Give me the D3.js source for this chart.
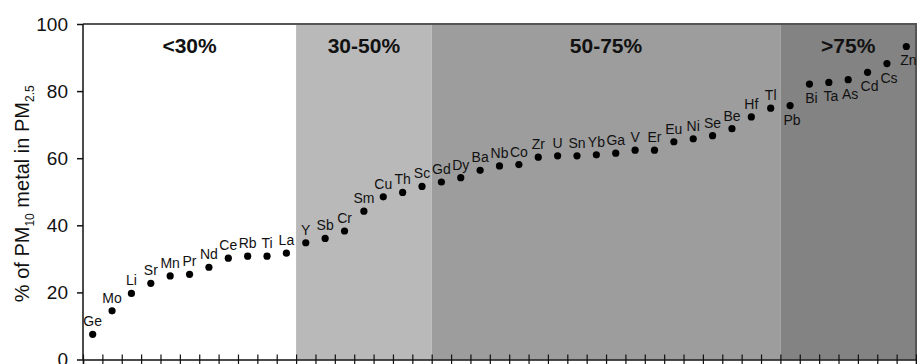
<!DOCTYPE html>
<html>
<head>
<meta charset="utf-8">
<script src="https://cdn.jsdelivr.net/npm/d3@7"></script>
<style>
    body { margin: 0; background: #fff; }
    svg { display: block; font-family: "Liberation Sans", Arial, sans-serif; }
</style>
</head>
<body>
<div id="chart"></div>
<script>
'use strict';

// elements, ordered by share of PM10 found in PM2.5
const elements = ["Ge", "Mo", "Li", "Sr", "Mn", "Pr", "Nd", "Ce", "Rb", "Ti", "La",
    "Y", "Sb", "Cr", "Sm", "Cu", "Th", "Sc",
    "Gd", "Dy", "Ba", "Nb", "Co", "Zr", "U", "Sn", "Yb", "Ga", "V", "Er", "Eu", "Ni", "Se", "Be", "Hf", "Tl",
    "Pb", "Bi", "Ta", "As", "Cd", "Cs", "Zn"];

const percentages = [7.5, 14.5, 19.7, 22.7, 24.9, 25.4, 27.5, 30.2, 30.8, 30.8, 31.7,
    34.8, 36.1, 38.3, 44.2, 48.5, 49.8, 51.6,
    52.9, 54.2, 56.4, 57.7, 58.1, 60.3, 60.7, 60.7, 61.0, 61.5, 62.4, 62.4, 64.9, 65.8, 66.7, 68.8, 72.3, 74.9,
    75.7, 82.1, 82.6, 83.4, 85.6, 88.2, 93.3];

// shaded groups: label and the first element of each group
const groupLabels = ["<30%", "30-50%", "50-75%", ">75%"];
const groupStarts = ["Ge", "Y", "Gd", "Pb"];
const groupColors = ["#ffffff", "#b9b9b9", "#9d9d9d", "#838383"];

// labels drawn under the dot instead of above it
const labelsBelow = ["Pb", "Bi", "Ta", "As", "Cd", "Cs", "Zn"];

const yTicks = [0, 20, 40, 60, 80, 100];

const width = 917, height = 364;
const margin = { top: 24, right: 1, bottom: 4.5, left: 83 };
const plotW = width - margin.left - margin.right;
const plotH = height - margin.top - margin.bottom;

const svg = d3.select("#chart")
    .append("svg")
    .attr("width", width)
    .attr("height", height);

const g = svg.append("g")
    .attr("transform", "translate(" + margin.left + "," + margin.top + ")");

const x = d3.scaleBand()
    .domain(elements)
    .range([0, plotW])
    .padding(0);

const y = d3.scaleLinear()
    .domain([0, 100])
    .range([plotH, 0]);

// background shading for each group
groupStarts.forEach((start, i) => {
    const x0 = x(start);
    const x1 = i + 1 < groupStarts.length ? x(groupStarts[i + 1]) : plotW;
    g.append("rect")
        .attr("x", x0)
        .attr("y", 0)
        .attr("width", x1 - x0)
        .attr("height", plotH)
        .attr("fill", groupColors[i]);

    g.append("text")
        .attr("x", (x0 + x1) / 2)
        .attr("y", 29)
        .attr("text-anchor", "middle")
        .style("font-size", "21px")
        .style("font-weight", "bold")
        .attr("fill", "#111")
        .text(groupLabels[i]);
});

// top and right frame
g.append("path")
    .attr("d", "M0,0H" + plotW + "V" + plotH)
    .attr("fill", "none")
    .attr("stroke", "#555")
    .attr("stroke-width", 2);

// y axis
const yAxis = g.append("g")
    .call(d3.axisLeft(y).tickValues(yTicks).tickSize(6).tickPadding(9));
yAxis.select(".domain").remove();
yAxis.selectAll(".tick line").attr("stroke", "#111").attr("stroke-width", 1.5);
yAxis.selectAll(".tick text")
    .style("font-size", "19px")
    .style("font-family", "\"Liberation Sans\", Arial, sans-serif")
    .attr("fill", "#111");
g.append("line")
    .attr("x1", 0).attr("x2", 0)
    .attr("y1", 0).attr("y2", plotH)
    .attr("stroke", "#111")
    .attr("stroke-width", 1.5);

// x axis: crossing ticks on band boundaries
const xEdge = d3.scaleLinear().domain([0, elements.length]).range([0, plotW]);
const xAxis = g.append("g")
    .attr("transform", "translate(0," + plotH + ")")
    .call(d3.axisBottom(xEdge).tickValues(d3.range(elements.length + 1)).tickSize(5).tickFormat(""));
xAxis.select(".domain").attr("stroke", "#111").attr("stroke-width", 1.5);
xAxis.selectAll(".tick line").attr("y1", -5).attr("stroke", "#111").attr("stroke-width", 1.2);

// y axis title with subscripts
const title = svg.append("text")
    .attr("transform", "translate(29," + (margin.top + plotH / 2 + 2) + ") rotate(-90)")
    .attr("text-anchor", "middle")
    .style("font-size", "20px")
    .attr("fill", "#111");
title.append("tspan").text("% of PM");
title.append("tspan").attr("dy", 5).style("font-size", "12px").text("10");
title.append("tspan").attr("dy", -5).text(" metal in PM");
title.append("tspan").attr("dy", 5).style("font-size", "12px").text("2.5");

// points
const points = elements.map((el, i) => ({ el: el, v: percentages[i] }));

g.selectAll(".dot")
    .data(points)
    .enter()
    .append("circle")
    .attr("class", "dot")
    .attr("cx", d => x(d.el) + x.bandwidth() / 2)
    .attr("cy", d => y(d.v))
    .attr("r", 3.6)
    .attr("fill", "#000");

g.selectAll(".elabel")
    .data(points)
    .enter()
    .append("text")
    .attr("class", "elabel")
    .attr("x", d => x(d.el) + x.bandwidth() / 2 + (labelsBelow.includes(d.el) ? 2 : 0))
    .attr("y", d => y(d.v) + (labelsBelow.includes(d.el) ? 19 : -8))
    .attr("text-anchor", "middle")
    .style("font-size", "14px")
    .attr("fill", "#111")
    .text(d => d.el);
</script>
</body>
</html>
